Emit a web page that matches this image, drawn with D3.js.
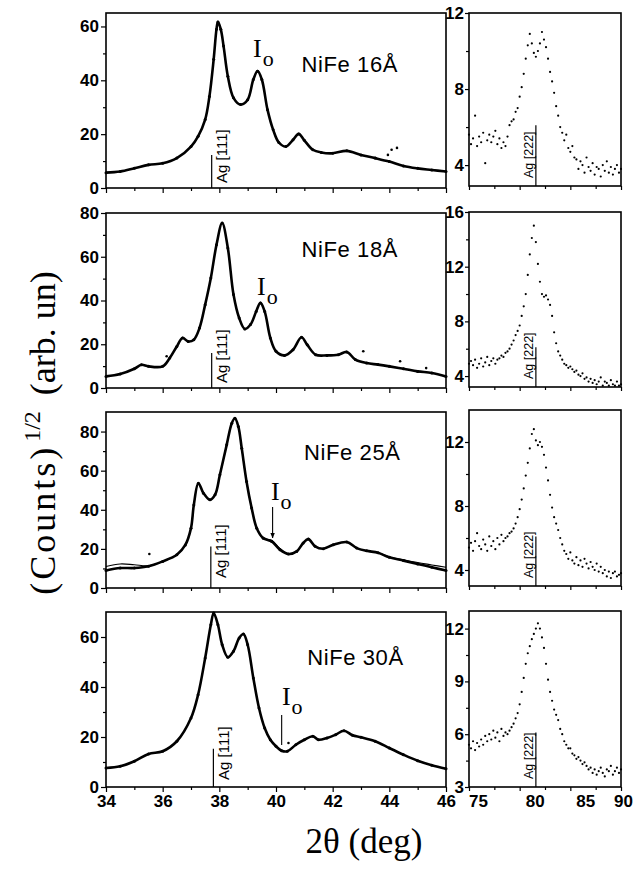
<!DOCTYPE html>
<html lang="en">
<head>
    <title>NiFe / Ag XRD scans</title>
    <meta charset="utf-8">
    <script src="https://d3js.org/d3.v7.min.js"></script>
    <style>
      body { margin: 0; background: #fff; }
      .tick text {
        font-family: "Liberation Sans", Arial, sans-serif;
        font-size: 17px;
        font-weight: bold;
        fill: #000;
      }
      .tick line { stroke: #000; stroke-width: 1.2; }
      .frame { fill: none; stroke: #000; stroke-width: 1.6; }
    </style>
</head>
<body>
<svg id="chart"></svg>
<script>
    // ---- left panels: 2theta 34-46 deg, sqrt(counts) ----
    const x16 = [34.0,34.5,35.0,35.5,36.0,36.5,37.0,37.25,37.5,37.65,37.8,37.9,37.95,38.05,38.15,38.3,38.5,38.75,39.0,39.2,39.35,39.5,39.7,39.9,40.1,40.35,40.6,40.8,41.0,41.3,41.6,42.0,42.5,43.0,43.5,44.0,44.5,45.0,45.5,46.0];
    const y16 = [5.7,6.1,7.3,8.6,9.2,11.1,15.4,19.2,25.4,34,47.8,59,61.7,59,52.7,41.5,33.5,31,32.8,40.3,43.4,40.3,29.1,21.6,16.9,15.4,17.9,20.1,17.7,14.2,13.2,12.9,13.8,12.3,11.1,9.8,8.2,7.3,6.7,6.1];
    const out16x = [43.95,44.08,44.27];
    const out16y = [12.3,14.2,14.9];

    const x18 = [34.0,34.5,35.0,35.25,35.5,36.0,36.25,36.5,36.7,36.9,37.1,37.3,37.5,37.7,37.9,38.1,38.3,38.5,38.7,38.9,39.1,39.3,39.45,39.6,39.8,40.0,40.3,40.6,40.9,41.1,41.4,41.8,42.2,42.5,42.8,43.2,43.6,44.0,44.5,45.0,45.5,46.0];
    const y18 = [5.3,6.4,8.8,10.6,9.9,9.9,13.7,19,22.9,21.3,22.1,27.4,38.1,50.3,65.5,75.4,64,42.7,32,27,29,35,38.9,35,22.9,16.8,14.9,17.5,23.2,19.8,15.2,14.9,15.2,16.5,13,11.4,10.7,9.9,8.8,7.6,6.9,5.3];
    const out18x = [36.14,43.08,44.38,45.3];
    const out18y = [14.5,16.8,12.2,9.1];

    const x25 = [34.0,34.5,35.0,35.5,36.0,36.5,36.8,37.0,37.1,37.26,37.44,37.67,37.85,38.02,38.26,38.44,38.55,38.67,38.79,38.96,39.14,39.32,39.55,39.85,40.14,40.44,40.73,40.96,41.14,41.38,41.67,42.02,42.5,42.85,43.2,43.6,44.0,44.5,45.0,45.5,46.0];
    const y25 = [9.0,10.2,10.2,11.1,13.6,17.0,22.0,30.6,42.5,53.6,48.5,45.1,47.7,57.9,73.2,84.3,86.8,82.6,71.5,54.5,40.9,30.6,25.5,23.8,19.6,17.4,18.7,23.0,25.0,21.3,20.1,22.1,23.5,20.4,19.0,18.0,15.7,14.0,12.3,10.6,8.9];
    const fit25 = [11.0,12.3,11.9,11.4,13.6,17.0,22.0,30.6,42.5,53.6,48.5,45.1,47.7,57.9,73.2,84.3,86.8,82.6,71.5,54.5,40.9,30.6,25.5,24.4,20.2,17.4,18.7,23.0,25.0,21.3,20.1,22.1,23.5,20.4,19.0,18.0,15.9,14.4,13.0,11.8,10.6];
    const out25x = [35.53];
    const out25y = [17.4];

    const x30 = [34.0,34.5,35.0,35.5,36.0,36.5,37.0,37.25,37.5,37.7,37.8,37.95,38.1,38.3,38.5,38.7,38.85,39.0,39.2,39.4,39.6,39.8,40.0,40.2,40.4,40.7,41.0,41.3,41.5,41.8,42.1,42.4,42.7,43.0,43.5,44.0,44.5,45.0,45.5,46.0];
    const y30 = [7.6,8.3,10.3,13.2,14.3,18.3,27.6,36.9,51.6,64.9,69.6,64.9,56.9,51.9,54.3,59.6,61.2,56.9,43.6,31.6,23.6,18.9,16.3,14.5,14.3,16.9,18.9,20.3,18.9,19.6,20.9,22.5,20.7,19.9,18.3,15.6,12.9,10.5,8.7,7.3];
    const out30x = [40.44];
    const out30y = [17.6];

    // ---- right panels: 2theta 75-90 deg, 0.2 deg step ----
    const rx = d3.range(75, 90.01, 0.2);
    const r16 = [5.6,5.1,5.4,6.6,5.0,5.5,5.2,5.7,4.1,5.3, 5.6,5.2,5.5,5.8,5.1,5.4,4.9,5.2,5.0,5.5,
                 6.1,6.3,6.4,6.8,7.0,7.6,8.1,8.8,9.6,10.3, 10.9,10.4,9.9,9.7,10.0,10.4,11.0,10.6,10.2,9.6,
                 8.9,8.4,7.8,7.1,6.6,6.0,5.7,5.3,5.6,4.9, 4.7,5.0,4.4,4.3,3.8,4.2,4.0,3.6,4.4,3.9,
                 3.7,4.1,3.5,3.9,3.8,3.4,4.0,3.7,4.2,3.6, 3.9,3.5,3.8,4.0,3.6,3.8];
    const r18 = [4.9,5.1,4.8,5.2,4.6,4.9,5.3,4.7,5.0,5.4, 4.8,5.1,5.3,4.9,5.2,5.3,5.5,5.4,5.7,5.8,
                 6.0,6.3,6.6,7.0,7.3,7.7,8.4,9.1,10.0,11.4, 12.9,14.1,15.0,13.8,12.2,10.9,10.0,9.8,9.9,9.6,
                 9.2,8.4,7.2,6.4,5.8,5.5,5.2,4.9,4.8,4.6, 4.7,4.5,4.3,4.4,4.1,4.0,4.2,3.8,3.9,3.6,
                 3.8,3.5,3.7,3.4,3.6,3.9,3.3,3.6,3.5,3.3, 3.7,3.4,3.3,3.6,3.3,3.4];
    const r25 = [5.4,5.7,5.2,5.8,6.3,5.5,5.3,5.9,5.6,5.2, 6.1,5.5,5.8,5.3,6.0,5.6,6.2,5.8,6.0,6.1,
                 6.3,6.4,6.6,6.9,7.3,7.8,8.4,9.1,9.9,10.7, 11.6,12.5,12.8,12.1,11.8,12.0,11.7,11.2,10.4,9.6,
                 8.7,7.9,7.3,6.9,6.5,6.0,5.6,5.2,5.0,4.7, 5.1,4.6,4.4,4.8,4.3,4.6,4.2,4.7,4.4,4.1,
                 4.5,4.2,4.0,4.4,3.9,4.2,3.8,4.0,3.6,3.9, 3.5,3.8,3.9,3.6,3.7,3.8];
    const r30 = [5.4,5.2,5.6,5.1,5.5,5.3,5.7,5.4,5.9,5.6, 6.0,5.7,6.2,5.8,6.1,5.6,6.3,5.9,6.1,6.0,
                 6.2,6.4,6.6,6.9,7.2,7.7,8.4,9.2,10.0,10.6, 11.0,11.4,11.7,12.0,12.3,12.0,11.5,10.9,10.0,9.1,
                 8.4,7.9,7.4,7.1,6.8,6.3,6.0,5.6,5.4,5.2, 5.2,4.9,4.8,4.6,4.7,4.5,4.3,4.4,4.2,4.0,
                 4.1,3.8,4.0,3.7,3.9,4.1,3.8,3.6,4.0,3.9, 4.2,3.7,3.9,4.1,3.8,4.0];

    const labels = ["NiFe 16", "NiFe 18", "NiFe 25", "NiFe 30"];

    const sans = '"Liberation Sans", Arial, sans-serif';
    const serif = '"Liberation Serif", "Times New Roman", serif';

    const svg = d3.select("#chart").attr("width", 638).attr("height", 872);

    const xL = d3.scaleLinear().domain([34, 46]).range([106, 446]);
    const xR = d3.scaleLinear().domain([75, 90]).range([469, 621]);
    // the printed right-hand tick numbers sit a bit right of their ticks
    const rLabelShift = {75: 9, 80: 15, 85: 15, 90: 2};

    // layout of each row (pixels) and annotation spots (data units)
    const rows = [
        {x: x16, y: y16, ox: out16x, oy: out16y, r: r16,
         top: 13, bot: 188, lmax: 65, lTicks: [0, 20, 40, 60], lMinor: [10, 30, 50],
         rTop: 13, rBot: 186, rDom: [2.9, 12], rTicks: [4, 8, 12], rMinor: [6, 10],
         ag: [37.73, 12.3], agLift: 5, io: [39.19, 48.7], nife: [40.9, 43.1]},
        {x: x18, y: y18, ox: out18x, oy: out18y, r: r18,
         top: 213, bot: 388, lmax: 80, lTicks: [0, 20, 40, 60, 80], lMinor: [10, 30, 50, 70],
         rTop: 212, rBot: 387, rDom: [3.2, 16], rTicks: [4, 8, 12, 16], rMinor: [6, 10, 14],
         ag: [37.73, 16], agLift: 5, io: [39.33, 42.5], nife: [40.9, 60]},
        {x: x25, y: y25, fit: fit25, ox: out25x, oy: out25y, r: r25,
         top: 412, bot: 588, lmax: 90, lTicks: [0, 20, 40, 60, 80], lMinor: [10, 30, 50, 70],
         rTop: 410, rBot: 586, rDom: [3, 14], rTicks: [4, 8, 12], rMinor: [6, 10],
         ag: [37.7, 21.2], agLift: 10, io: [39.82, 45], arrow: [39.88, 41.4, 25.6], nife: [40.99, 65.4]},
        {x: x30, y: y30, ox: out30x, oy: out30y, r: r30,
         top: 612, bot: 787, lmax: 70, lTicks: [0, 20, 40, 60], lMinor: [10, 30, 50],
         rTop: 611, rBot: 787, rDom: [3, 13], rTicks: [3, 6, 9, 12], rMinor: [4.5, 7.5, 10.5],
         ag: [37.79, 15.3], agLift: 7, io: [40.21, 32.8], stick: [40.2, 28.8, 16.8], nife: [41.1, 48.8]}
    ];

    svg.append("defs").append("marker")
        .attr("id", "arrowhead")
        .attr("viewBox", "0 0 10 10")
        .attr("refX", 9).attr("refY", 5)
        .attr("markerWidth", 5).attr("markerHeight", 5)
        .attr("orient", "auto")
        .append("path")
        .attr("d", "M0,1 L10,5 L0,9 Z")
        .attr("fill", "#000");

    rows.forEach((row, i) => {
        const last = i === rows.length - 1;
        const yL = d3.scaleLinear().domain([0, row.lmax]).range([row.bot, row.top]);
        const yR = d3.scaleLinear().domain(row.rDom).range([row.rBot, row.rTop]);
        const g = svg.append("g");

        // ---------- left panel ----------
        g.append("g").attr("transform", `translate(0,${row.bot})`)
            .call(d3.axisBottom(xL).tickValues(d3.range(35, 46, 2)).tickSize(3).tickFormat(""));
        g.append("g").attr("transform", `translate(0,${row.bot})`)
            .call(d3.axisBottom(xL).tickValues(d3.range(34, 47, 2)).tickSize(5).tickPadding(3)
                .tickFormat(last ? d3.format("d") : ""));
        g.append("g").attr("transform", `translate(${xL(34)},0)`)
            .call(d3.axisLeft(yL).tickValues(row.lMinor).tickSize(3).tickFormat(""));
        g.append("g").attr("transform", `translate(${xL(34)},0)`)
            .call(d3.axisLeft(yL).tickValues(row.lTicks).tickSize(5).tickPadding(2));

        g.append("rect").attr("class", "frame")
            .attr("x", xL(34)).attr("y", row.top)
            .attr("width", xL(46) - xL(34)).attr("height", row.bot - row.top);

        const pts = row.x.map((v, k) => [v, row.y[k]]);
        const line = d3.line().x(d => xL(d[0])).y(d => yL(d[1])).curve(d3.curveCatmullRom);

        if (row.fit) {
            g.append("path")
                .attr("d", line(row.x.map((v, k) => [v, row.fit[k]])))
                .attr("fill", "none").attr("stroke", "#000").attr("stroke-width", 1.1);
        }
        g.append("path")
            .attr("d", line(pts))
            .attr("fill", "none").attr("stroke", "#000").attr("stroke-width", 2.6);
        g.selectAll(null).data(pts).join("circle")
            .attr("cx", d => xL(d[0])).attr("cy", d => yL(d[1]))
            .attr("r", 1.5).attr("fill", "#000");
        g.selectAll(null).data(row.ox.map((v, k) => [v, row.oy[k]])).join("circle")
            .attr("cx", d => xL(d[0])).attr("cy", d => yL(d[1]))
            .attr("r", 1.3).attr("fill", "#000");

        // Ag [111] marker
        g.append("line")
            .attr("x1", xL(row.ag[0])).attr("x2", xL(row.ag[0]))
            .attr("y1", yL(0)).attr("y2", yL(row.ag[1]))
            .attr("stroke", "#000").attr("stroke-width", 1.2);
        g.append("text")
            .attr("transform", `translate(${xL(row.ag[0]) + 15.5},${row.bot - row.agLift}) rotate(-90)`)
            .style("font-family", sans).style("font-size", "15px")
            .text("Ag [111]");

        // I0 label
        const io = g.append("text")
            .attr("x", xL(row.io[0])).attr("y", yL(row.io[1]))
            .style("font-family", serif).style("font-size", "26px");
        io.append("tspan").text("I");
        io.append("tspan").attr("dy", 9).attr("dx", 1).style("font-size", "22px").text("o");

        if (row.arrow) {
            g.append("line")
                .attr("x1", xL(row.arrow[0])).attr("x2", xL(row.arrow[0]))
                .attr("y1", yL(row.arrow[1])).attr("y2", yL(row.arrow[2]))
                .attr("stroke", "#000").attr("stroke-width", 1.1)
                .attr("marker-end", "url(#arrowhead)");
        }
        if (row.stick) {
            g.append("line")
                .attr("x1", xL(row.stick[0])).attr("x2", xL(row.stick[0]))
                .attr("y1", yL(row.stick[1])).attr("y2", yL(row.stick[2]))
                .attr("stroke", "#000").attr("stroke-width", 1.1);
        }

        // sample label
        g.append("text")
            .attr("x", xL(row.nife[0])).attr("y", yL(row.nife[1]))
            .style("font-family", sans).style("font-size", "22px")
            .style("letter-spacing", "0.6px")
            .text(labels[i] + "\u00C5");

        // ---------- right panel ----------
        g.append("g").attr("transform", `translate(0,${row.rBot})`)
            .call(d3.axisBottom(xR).tickValues([77.5, 82.5, 87.5]).tickSize(3).tickFormat(""));
        const rxAxis = g.append("g").attr("transform", `translate(0,${row.rBot})`)
            .call(d3.axisBottom(xR).tickValues([75, 80, 85, 90]).tickSize(4).tickPadding(4)
                .tickFormat(last ? d3.format("d") : ""));
        rxAxis.selectAll(".tick text").attr("dx", d => rLabelShift[d]);
        g.append("g").attr("transform", `translate(${xR(75)},0)`)
            .call(d3.axisLeft(yR).tickValues(row.rMinor).tickSize(3).tickFormat(""));
        g.append("g").attr("transform", `translate(${xR(75)},0)`)
            .call(d3.axisLeft(yR).tickValues(row.rTicks).tickSize(4).tickPadding(1));

        g.append("rect").attr("class", "frame")
            .attr("x", xR(75)).attr("y", row.rTop)
            .attr("width", xR(90) - xR(75)).attr("height", row.rBot - row.rTop);

        g.selectAll(null).data(rx.map((v, k) => [v, row.r[k]])).join("circle")
            .attr("cx", d => xR(d[0])).attr("cy", d => yR(d[1]))
            .attr("r", 1.1).attr("fill", "#000");

        // Ag [222] marker
        g.append("line")
            .attr("x1", xR(81.6)).attr("x2", xR(81.6))
            .attr("y1", row.rBot).attr("y2", yR(6.1))
            .attr("stroke", "#000").attr("stroke-width", 1.2);
        g.append("text")
            .attr("transform", `translate(${xR(81.6) - 2.5},${row.rBot - 8}) rotate(-90)`)
            .style("font-family", sans).style("font-size", "12.5px")
            .text("Ag [222]");
    });

    svg.selectAll(".domain").remove();

    // axis titles
    const yt = svg.append("text")
        .attr("transform", "translate(55,433) rotate(-90)")
        .attr("text-anchor", "middle")
        .style("font-family", serif).style("font-size", "36px");
    yt.append("tspan").style("letter-spacing", "3px").text("(Counts)");
    yt.append("tspan").attr("dx", 3).attr("dy", -15).style("font-size", "24px").text("1/2");
    yt.append("tspan").attr("dx", 16).attr("dy", 15).text("(arb. un)");

    svg.append("text")
        .attr("x", 364).attr("y", 853)
        .attr("text-anchor", "middle")
        .style("font-family", serif).style("font-size", "35px")
        .text("2\u03B8 (deg)");
</script>
</body>
</html>
